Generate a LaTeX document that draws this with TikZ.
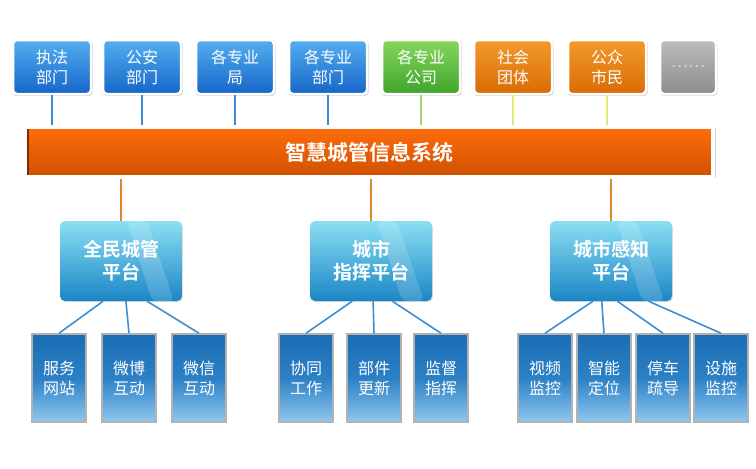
\documentclass[tikz,border=0pt]{standalone}
\usepackage{fontspec}
\setmainfont{Noto Sans CJK SC}[BoldFont={Noto Sans CJK SC Bold}]
\usetikzlibrary{shadows,calc}
\definecolor{tbtop}{HTML}{54AEF0}
\definecolor{tbbot}{HTML}{1566C8}
\definecolor{tgtop}{HTML}{86D65E}
\definecolor{tgbot}{HTML}{40A52A}
\definecolor{totop}{HTML}{F39A2C}
\definecolor{tobot}{HTML}{D86C04}
\definecolor{tytop}{HTML}{BDBDBD}
\definecolor{tybot}{HTML}{8C8C8C}
\definecolor{bartop}{HTML}{FF6D0C}
\definecolor{barbot}{HTML}{CF5000}
\definecolor{bardark}{HTML}{7A2E00}
\definecolor{pltop}{HTML}{8ADFF3}
\definecolor{plbot}{HTML}{1B86C6}
\definecolor{sbtop}{HTML}{1A6CB3}
\definecolor{sbmid}{HTML}{2C80C4}
\definecolor{sbbot}{HTML}{90C7F0}
\definecolor{tline}{HTML}{3A8AD8}
\definecolor{gline}{HTML}{A6D474}
\definecolor{yline}{HTML}{E6E67A}
\definecolor{pline}{HTML}{DA8430}
\definecolor{slinec}{HTML}{3D8FD2}

\begin{document}
\begin{tikzpicture}[x=1pt,y=-1pt,
  topbox/.style 2 args={draw=white,line width=2.5pt,rounded corners=4pt,top color=#1,bottom color=#2,
    minimum height=54pt,inner sep=1pt,align=center,text=white,font=\fontsize{16}{20}\selectfont,
    drop shadow={opacity=0.3,shadow xshift=0.5pt,shadow yshift=-1pt,shadow scale=1.035}},
  bar/.style={draw=white,line width=3.5pt,top color=bartop,bottom color=barbot,
    minimum width=688pt,minimum height=50pt,text=white,font=\bfseries\fontsize{21}{24}\selectfont,
    path picture={\fill[bardark] (path picture bounding box.south west) rectangle ($(path picture bounding box.north west)+(3.5pt,0)$);},
    drop shadow={opacity=0.35,shadow xshift=1pt,shadow yshift=-1.2pt,shadow scale=1.006}},
  platbox/.style={rounded corners=5pt,top color=pltop,bottom color=plbot,minimum width=122pt,minimum height=80pt,
    align=center,text=white,font=\bfseries\fontsize{19}{23}\selectfont,
    path picture={\fill[white,opacity=0.16] ($(path picture bounding box.north)+(6pt,0)$) -- ++(20pt,0)
      -- ($(path picture bounding box.south east)+(-8pt,0)$) -- ++(-22pt,0) -- cycle;},
    drop shadow={opacity=0.25,shadow xshift=0.8pt,shadow yshift=-1.2pt}},
  subbox/.style={draw=black!30,line width=1.5pt,top color=sbtop,bottom color=sbbot,middle color=sbmid,
    minimum width=54pt,minimum height=88pt,align=center,text=white,font=\fontsize{16}{20}\selectfont},
  vline/.style={line width=1.6pt},
  subline/.style={line width=1.6pt,slinec}]
  \useasboundingbox (0,0) rectangle (756,469);
  \foreach \lab/\cx/\bw/\fa/\fb [count=\i] in {
      {执法\\部门}/52/78/tbtop/tbbot,
      {公安\\部门}/142/78/tbtop/tbbot,
      {各专业\\局}/235/78/tbtop/tbbot,
      {各专业\\部门}/328/78/tbtop/tbbot,
      {各专业\\公司}/421/78/tgtop/tgbot,
      {社会\\团体}/513/78/totop/tobot,
      {公众\\市民}/607/78/totop/tobot,
      {\textcolor{white!85!black}{……}}/688/56/tytop/tybot} {
    \node[topbox={\fa}{\fb},minimum width=\bw pt] (t\i) at (\cx,67) {\lab};
  }
  \node[bar] (bar) at (369,152) {智慧城管信息系统};
  \foreach \i/\c in {1/tline,2/tline,3/tline,4/tline,5/gline,6/yline,7/yline}
    \draw[vline,\c] (t\i.south) -- (t\i.south |- bar.north);
  \foreach \lab/\cx [count=\i] in {{全民城管\\平台}/121,{城市\\指挥平台}/371,{城市感知\\平台}/611} {
    \node[platbox] (p\i) at (\cx,261) {\lab};
    \draw[vline,pline] (p\i.north) -- (p\i.north |- bar.south);
  }
  \foreach \lab/\cx [count=\i] in {
      {服务\\网站}/59,{微博\\互动}/129,{微信\\互动}/199,
      {协同\\工作}/306,{部件\\更新}/374,{监督\\指挥}/441,
      {视频\\监控}/545,{智能\\定位}/604,{停车\\疏导}/663,{设施\\监控}/721}
    \node[subbox] (b\i) at (\cx,378) {\lab};
  \foreach \p/\a/\b in {1/-114/1,1/-83/2,1/-57/3,2/-115/4,2/-87/5,2/-62/6,3/-114/7,3/-103/8,3/-81/9,3/-47/10}
    \draw[subline] (p\p.\a) -- (b\b.north);
\end{tikzpicture}
\end{document}
